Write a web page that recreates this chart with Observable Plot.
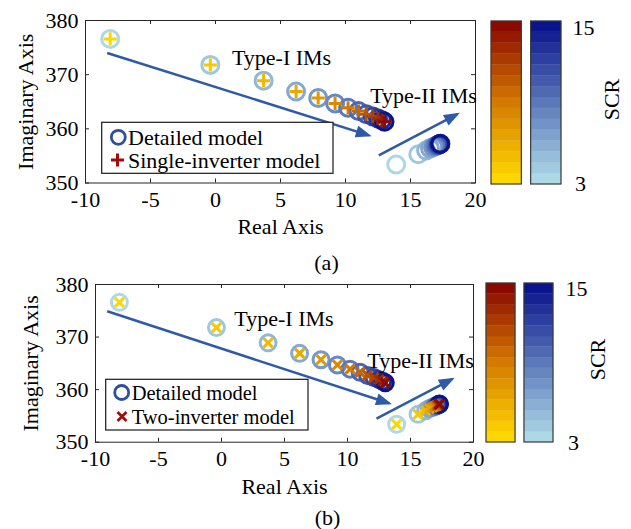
<!DOCTYPE html>
<html>
<head>
<meta charset="utf-8">
<script src="https://cdn.jsdelivr.net/npm/d3@7"></script>
<script src="https://cdn.jsdelivr.net/npm/@observablehq/plot@0.6"></script>
<style>
html, body { margin: 0; padding: 0; background: #fff; }
#fig { position: relative; width: 631px; height: 529px; overflow: hidden; background: #fff; }
</style>
</head>
<body>
<div id="fig"></div>
<script>
// ---------------- data ----------------
const scr = [3, 4, 5, 6, 7, 8, 9, 10, 11, 12, 13, 14, 15];
// Type-I interaction modes (real, imaginary)
const type1Re = [-8.1, -0.4, 3.7, 6.2, 7.9, 9.2, 10.2, 11.0, 11.6, 12.1, 12.5, 12.8, 13.0];
const type1Im = [376.6, 371.8, 368.9, 366.9, 365.7, 364.7, 363.9, 363.3, 362.7, 362.3, 361.9, 361.6, 361.3];
// Type-II interaction modes (real, imaginary)
const type2Re = [13.9, 15.6, 16.2, 16.5, 16.75, 16.9, 17.0, 17.1, 17.15, 17.2, 17.25, 17.28, 17.3];
const type2Im = [353.4, 355.3, 356.0, 356.4, 356.6, 356.8, 356.9, 357.0, 357.05, 357.1, 357.15, 357.2, 357.25];

const xTicks = [-10, -5, 0, 5, 10, 15, 20];
const yTicks = [350, 360, 370, 380];
const scrTickLabels = ["3", "15"];
const colorbarSteps = [0, 1, 2, 3, 4, 5, 6, 7, 8, 9, 10, 11, 12, 13, 14];

const arrowsA = [
  {x1: -8.33, y1: 374.0, x2: 11.8, y2: 358.8},
  {x1: 12.56, y1: 355.1, x2: 18.6, y2: 362.7}
];
const arrowsB = [
  {x1: -9.07, y1: 374.9, x2: 13.3, y2: 357.4},
  {x1: 12.3, y1: 354.5, x2: 18.3, y2: 362.0}
];
const notesA = [
  {x: 5.08, y: 373.0, label: "Type-I IMs"},
  {x: 16.0, y: 366.0, label: "Type-II IMs"}
];
const notesB = [
  {x: 4.96, y: 373.5, label: "Type-I IMs"},
  {x: 15.8, y: 365.5, label: "Type-II IMs"}
];

// ---------------- styling ----------------
const FONT = '"Liberation Serif", "Times New Roman", serif';
const FS = 22;
const AXIS_COLOR = "#262626";
const ARROW_COLOR = "#2E5AA6";
const warmMap = d3.piecewise(d3.interpolateRgb, ["#FFD700", "#D47A00", "#8B0A00"]);
const coolMap = d3.piecewise(d3.interpolateRgb, ["#ADD8E6", "#5B78BA", "#0A148C"]);
const tOf = s => (s - 3) / 12;

const type1 = scr.map((s, i) => ({scr: s, x: type1Re[i], y: type1Im[i]}));
const type2 = scr.map((s, i) => ({scr: s, x: type2Re[i], y: type2Im[i]}));

const fig = document.getElementById("fig");
function place(node, left, top) {
  node.style.position = "absolute";
  node.style.left = left + "px";
  node.style.top = top + "px";
  fig.appendChild(node);
  return node;
}

function arrowHead(color, context) {
  const doc = (context && context.document) || document;
  const m = doc.createElementNS("http://www.w3.org/2000/svg", "marker");
  m.setAttribute("viewBox", "-16 -6 16 12");
  m.setAttribute("markerWidth", "16");
  m.setAttribute("markerHeight", "12");
  m.setAttribute("markerUnits", "userSpaceOnUse");
  m.setAttribute("refX", "-3");
  m.setAttribute("refY", "0");
  m.setAttribute("orient", "auto");
  m.setAttribute("overflow", "visible");
  const p = doc.createElementNS("http://www.w3.org/2000/svg", "path");
  p.setAttribute("d", "M-16,-6L0,0L-16,6Z");
  p.setAttribute("fill", color);
  p.setAttribute("stroke", "none");
  m.appendChild(p);
  return m;
}

const centered = {textAnchor: "middle", lineAnchor: "middle"};

function mainPlot(cfg) {
  const W = 631, H = cfg.height;
  const fw = cfg.right - cfg.left, fh = cfg.bottom - cfg.top;
  const crossData = cfg.crossOnType2 ? type1.concat(type2) : type1;
  return Plot.plot({
    width: W, height: H,
    marginLeft: cfg.left, marginRight: W - cfg.right,
    marginTop: cfg.top, marginBottom: H - cfg.bottom,
    x: {domain: [-10, 20]},
    y: {domain: [350, 380]},
    color: {type: "identity"},
    style: {fontFamily: FONT, fontSize: FS + "px", background: "transparent", color: "#000", overflow: "visible"},
    marks: [
      Plot.frame({stroke: AXIS_COLOR, strokeWidth: 1}),
      Plot.tickX(xTicks, {x: d => d, insetTop: fh - 4, stroke: AXIS_COLOR}),
      Plot.tickX(xTicks, {x: d => d, insetBottom: fh - 4, stroke: AXIS_COLOR}),
      Plot.tickY(yTicks, {y: d => d, insetRight: fw - 4, stroke: AXIS_COLOR}),
      Plot.tickY(yTicks, {y: d => d, insetLeft: fw - 4, stroke: AXIS_COLOR}),
      Plot.axisX({ticks: xTicks, tickSize: 0, tickPadding: 8, tickFormat: d => `${d}`, label: null}),
      Plot.axisY({ticks: yTicks, tickSize: 0, tickPadding: 7, tickFormat: d => `${d}`, label: null}),
      Plot.text(["Real Axis"], {text: d => d, frameAnchor: "bottom", dy: cfg.xLabelDy, ...centered}),
      Plot.text(["Imaginary Axis"], {text: d => d, frameAnchor: "left", dx: cfg.yLabelDx, rotate: -90, ...centered}),
      Plot.text([cfg.sub], {text: d => d, frameAnchor: "bottom", dx: cfg.subDx, dy: cfg.subDy, ...centered}),
      Plot.link(cfg.arrows, {x1: "x1", y1: "y1", x2: "x2", y2: "y2", stroke: ARROW_COLOR, strokeWidth: 2.5, markerEnd: arrowHead}),
      Plot.dot(type1, {x: "x", y: "y", r: cfg.circleR, fill: "none", stroke: d => coolMap(tOf(d.scr)), strokeWidth: 3}),
      Plot.dot(type2, {x: "x", y: "y", r: cfg.circleR, fill: "none", stroke: d => coolMap(tOf(d.scr)), strokeWidth: 3}),
      Plot.dot(crossData, {x: "x", y: "y", symbol: cfg.symbol, r: cfg.symbolR, stroke: d => warmMap(tOf(d.scr)), strokeWidth: 3}),
      Plot.text(cfg.notes, {x: "x", y: "y", text: "label", fill: "#000", ...centered})
    ]
  });
}

function colorbar(cfg) {
  const cells = [];
  for (const bar of ["warm", "cool"]) {
    for (const s of colorbarSteps) {
      const t = s / (colorbarSteps.length - 1);
      cells.push({bar, step: s, fill: bar === "warm" ? warmMap(t) : coolMap(t)});
    }
  }
  return Plot.plot({
    width: cfg.width, height: cfg.height,
    marginLeft: cfg.ml, marginRight: cfg.mr, marginTop: cfg.mt, marginBottom: cfg.mb,
    x: {type: "band", domain: ["warm", "cool"], paddingInner: 0.235, paddingOuter: 0, round: false, axis: null},
    y: {type: "band", domain: colorbarSteps, reverse: true, padding: 0, round: false, axis: null},
    color: {type: "identity"},
    style: {fontFamily: FONT, fontSize: FS + "px", background: "transparent", color: "#000", overflow: "visible"},
    marks: [
      Plot.cell(cells, {x: "bar", y: "step", fill: "fill", stroke: "fill", strokeWidth: 0.3}),
      Plot.cell(["warm", "cool"], {x: d => d, fill: "none", stroke: "#3a3a3a", strokeWidth: 1.2}),
      Plot.text([scrTickLabels[1]], {text: d => d, frameAnchor: "top-right", dx: cfg.topDx, dy: cfg.topDy, ...centered}),
      Plot.text([scrTickLabels[0]], {text: d => d, frameAnchor: "bottom-right", dx: cfg.botDx, dy: cfg.botDy, ...centered}),
      Plot.text(["SCR"], {text: d => d, frameAnchor: "right", dx: cfg.scrDx, dy: cfg.scrDy, rotate: -90, ...centered})
    ]
  });
}

// Panel (a)
place(mainPlot({
  height: 275, left: 85, right: 475, top: 20, bottom: 182.5,
  xLabelDy: 43.5, yLabelDx: -60, sub: "(a)", subDx: 46, subDy: 79.5,
  arrows: arrowsA, notes: notesA, circleR: 8.5, symbol: "plus", symbolR: 4.3, crossOnType2: false
}), 0, 0);
place(colorbar({
  width: 161, height: 200, ml: 21, mr: 70, mt: 21, mb: 16,
  topDx: 22, topDy: 6, botDx: 19, botDy: -1, scrDx: 50, scrDy: -3.5
}), 470, 0);

// Panel (b)
place(mainPlot({
  height: 265, left: 95, right: 473, top: 20, bottom: 177.7,
  xLabelDy: 45, yLabelDx: -65, sub: "(b)", subDx: 43, subDy: 75.5,
  arrows: arrowsB, notes: notesB, circleR: 8, symbol: "times", symbolR: 4.2, crossOnType2: true
}), 0, 264);
place(colorbar({
  width: 161, height: 200, ml: 16, mr: 78, mt: 19, mb: 22,
  topDx: 23, topDy: 5, botDx: 20, botDy: 0, scrDx: 44, scrDy: -3.5
}), 470, 264);

// Legends (overlay)
const ov = d3.create("svg").attr("width", 631).attr("height", 529)
  .style("font-family", FONT).style("pointer-events", "none");
function legend(g, box, rows, fontSize) {
  g.append("rect").attr("x", box.x).attr("y", box.y).attr("width", box.w).attr("height", box.h)
    .attr("fill", "#fff").attr("stroke", "#1a1a1a").attr("stroke-width", 1.2);
  for (const r of rows) {
    if (r.kind === "circle") {
      g.append("circle").attr("cx", r.sx).attr("cy", r.sy).attr("r", 7).attr("fill", "none")
        .attr("stroke", "#2F4F9F").attr("stroke-width", 2.8);
    } else if (r.kind === "plus") {
      g.append("path").attr("d", `M${r.sx - 6.5},${r.sy}H${r.sx + 6.5}M${r.sx},${r.sy - 6.5}V${r.sy + 6.5}`)
        .attr("stroke", "#A00D0D").attr("stroke-width", 3).attr("fill", "none");
    } else {
      g.append("path").attr("d", `M${r.sx - 4.5},${r.sy - 4.5}L${r.sx + 4.5},${r.sy + 4.5}M${r.sx - 4.5},${r.sy + 4.5}L${r.sx + 4.5},${r.sy - 4.5}`)
        .attr("stroke", "#A00D0D").attr("stroke-width", 2.8).attr("fill", "none");
    }
    g.append("text").attr("x", r.tx).attr("y", r.sy).attr("dy", "0.35em").attr("fill", "#000")
      .style("font-size", fontSize + "px").text(r.text);
  }
}
legend(ov, {x: 101.7, y: 122.3, w: 231.3, h: 51}, [
  {kind: "circle", sx: 118.3, sy: 137.3, tx: 128, text: "Detailed model"},
  {kind: "plus", sx: 117.5, sy: 160, tx: 128, text: "Single-inverter model"}
], 22);
legend(ov, {x: 105.7, y: 379.3, w: 202.3, h: 50.7}, [
  {kind: "circle", sx: 121.7, sy: 392.5, tx: 131.7, text: "Detailed model"},
  {kind: "times", sx: 122, sy: 416.5, tx: 131.7, text: "Two-inverter model"}
], 20.5);
place(ov.node(), 0, 0);
</script>
</body>
</html>
